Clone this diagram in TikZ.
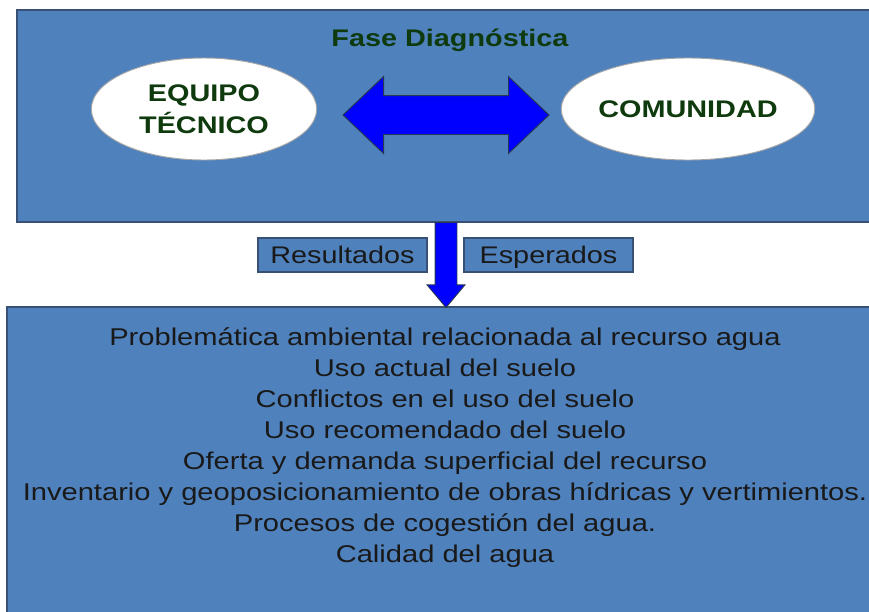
\documentclass[tikz,border=0pt]{standalone}
\usepackage{fontspec}
\setmainfont{Liberation Sans}
\newfontfamily\widefont[FakeStretch=1.2]{Liberation Sans}
\usetikzlibrary{shapes.geometric, shapes.arrows, positioning, calc}

\definecolor{boxblue}{RGB}{79,129,189}
\definecolor{boxedge}{RGB}{56,80,115}
\definecolor{darkgreen}{RGB}{14,58,14}
\definecolor{arrowblue}{RGB}{0,0,255}

\begin{document}
\begin{tikzpicture}[x=0.03cm, y=-0.03cm,
    panel/.style={rectangle, draw=boxedge, line width=1.3pt, fill=boxblue, inner sep=0pt},
    oval/.style={ellipse, draw=gray!70, line width=0.8pt, fill=white, inner sep=0pt,
        minimum width=6.76cm, minimum height=3.06cm, align=center,
        font=\widefont\bfseries\fontsize{20.5pt}{22pt}\selectfont, text=darkgreen},
    tag/.style={rectangle, draw=boxedge, line width=0.9pt, fill=boxblue, inner sep=0pt,
        minimum width=5.07cm, minimum height=1.02cm, text height=15pt, text depth=0pt,
        font=\widefont\fontsize{20.5pt}{22pt}\selectfont, text=black!90},
    bluearrow/.style={draw=boxedge!70!black, line width=0.8pt, fill=arrowblue},
  ]
  \useasboundingbox (0,0) rectangle (869,611);
  \clip (0,0) rectangle (869,611);

  % upper panel
  \node[panel, minimum width=26.19cm, minimum height=6.36cm] (fase) at (453.5,116) {};
  \node[font=\widefont\bfseries\fontsize{20.5pt}{22pt}\selectfont, text=darkgreen]
      (titulo) at (450,40) {Fase Diagnóstica};

  \node[oval] (equipo) at (204,109) {EQUIPO\\[4pt]TÉCNICO};
  \node[oval] (comunidad) at (688,109) {COMUNIDAD};

  \node[bluearrow, double arrow, inner sep=0.57cm, minimum height=6.18cm,
      double arrow head extend=0.57cm, double arrow tip angle=87] (enlace) at (446,115) {};

  % lower panel
  \node[panel, minimum width=26.49cm, minimum height=9.69cm] (resultado) at (448.5,468.5) {};

  \node[bluearrow, single arrow, shape border rotate=270, inner sep=0.315cm,
      minimum height=2.55cm, single arrow head extend=0.24cm, single arrow tip angle=80,
      anchor=tail] (baja) at (446,222) {};

  \node[tag] (res) at (342.5,255) {Resultados};
  \node[tag] (esp) at (548.5,255) {Esperados};

  \node[align=center, text=black!90, font=\widefont\fontsize{20.7pt}{26.46pt}\selectfont]
      (lista) at (445,448) {%
      Problemática ambiental relacionada al recurso agua\\
      Uso actual del suelo\\
      Conflictos en el uso del suelo\\
      Uso recomendado del suelo\\
      Oferta y demanda superficial del recurso\\
      Inventario y geoposicionamiento de obras hídricas y vertimientos.\\
      Procesos de cogestión del agua.\\
      Calidad del agua};
\end{tikzpicture}
\end{document}
